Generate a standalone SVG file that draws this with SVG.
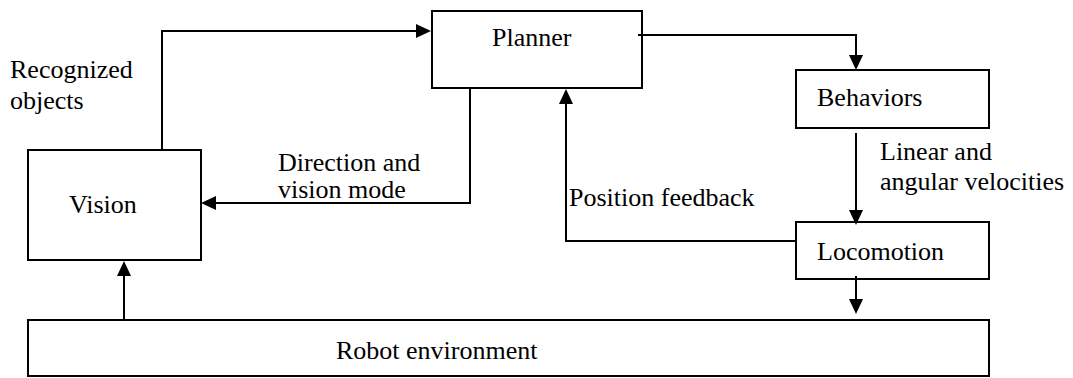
<svg xmlns="http://www.w3.org/2000/svg" width="1073" height="378" viewBox="0 0 1073 378">
<style>
.box{fill:#fff;stroke:#000;stroke-width:2}
.ln{fill:none;stroke:#000;stroke-width:2}
.t{font-family:'Liberation Serif','Times New Roman',serif;font-size:26px;fill:#000}
</style>
<defs>
<path id="ah" d="M0,0 L-15,-7 L-15,7 Z" fill="#000"/>
</defs>
<rect width="1073" height="378" fill="#fff"/>
<g id="planner"><rect class="box" x="432" y="11" width="210" height="77"/><text class="t" x="492" y="46">Planner</text></g>
<g id="behaviors"><rect class="box" x="796" y="70" width="193" height="58"/><text class="t" x="817" y="106">Behaviors</text></g>
<g id="locomotion"><rect class="box" x="796" y="222" width="193" height="57"/><text class="t" x="817" y="260">Locomotion</text></g>
<g id="vision"><rect class="box" x="28" y="150" width="173" height="110"/><text class="t" x="69" y="213">Vision</text></g>
<g id="environment"><rect class="box" x="28" y="320" width="961" height="56"/><text class="t" x="336" y="359">Robot environment</text></g>
<g id="connectors">
<path class="ln" d="M162,150 V31 H420"/><use href="#ah" transform="translate(431,31)"/>
<path class="ln" d="M638,35 H856 V60"/><use href="#ah" transform="translate(856,70) rotate(90)"/>
<path class="ln" d="M856,133 V215"/><use href="#ah" transform="translate(856,225) rotate(90)"/>
<path class="ln" d="M796,241 H566 V99"/><use href="#ah" transform="translate(566,89) rotate(-90)"/>
<path class="ln" d="M470,88 V203 H211"/><use href="#ah" transform="translate(201,203) rotate(180)"/>
<path class="ln" d="M856,276 V304"/><use href="#ah" transform="translate(856,314) rotate(90)"/>
<path class="ln" d="M124,320 V271"/><use href="#ah" transform="translate(124,261) rotate(-90)"/>
</g>
<text class="t" x="10" y="78">Recognized</text>
<text class="t" x="10" y="109">objects</text>
<text class="t" x="278" y="171">Direction and</text>
<text class="t" x="278" y="198">vision mode</text>
<text class="t" x="569" y="206">Position feedback</text>
<text class="t" x="880" y="160">Linear and</text>
<text class="t" x="880" y="190">angular velocities</text>
</svg>
